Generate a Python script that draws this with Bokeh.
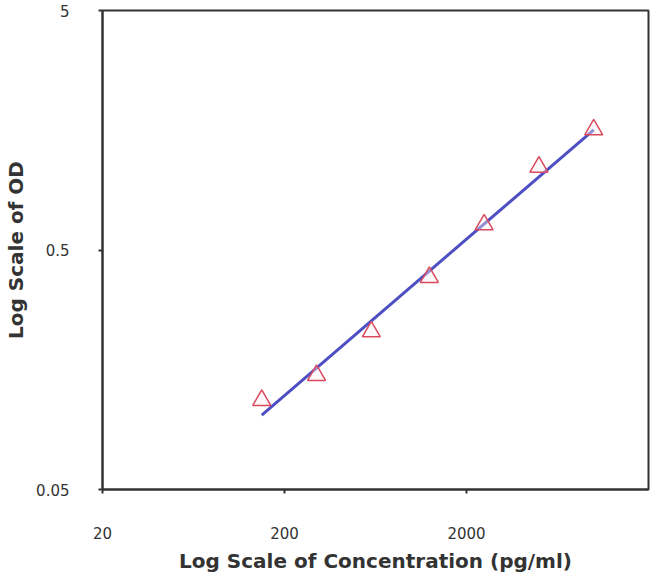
import numpy as np
from bokeh.plotting import figure
from bokeh.models import FixedTicker, CustomJSTickFormatter, Range1d
from bokeh.embed import file_html
from bokeh.resources import INLINE

# Data
concentration = [150, 300, 600, 1250, 2500, 5000, 10000]   # pg/ml
od = [0.118, 0.150, 0.228, 0.385, 0.638, 1.11, 1.59]
x_ticks = [20, 200, 2000]
y_ticks = [0.05, 0.5, 5]
x_label = "Log Scale of Concentration (pg/ml)"
y_label = "Log Scale of OD"

# log-log linear fit
b, a = np.polyfit(np.log10(concentration), np.log10(od), 1)
fit_x = [min(concentration), max(concentration)]
fit_y = [10 ** (a + b * np.log10(v)) for v in fit_x]

p = figure(width=650, height=575, x_axis_type="log", y_axis_type="log",
           x_range=Range1d(20, 20000), y_range=Range1d(0.05, 5),
           output_backend="svg", toolbar_location=None,
           min_border_left=102, min_border_right=2, min_border_top=10,
           min_border_bottom=82)

p.background_fill_color = "white"
p.border_fill_color = "white"
p.grid.visible = False
p.outline_line_color = "#333333"
p.outline_line_width = 2

FONT = "DejaVu Sans"
fmt = CustomJSTickFormatter(code="return String(tick)")
for ax, ticks in ((p.xaxis[0], x_ticks), (p.yaxis[0], y_ticks)):
    ax.ticker = FixedTicker(ticks=ticks, minor_ticks=[])
    ax.formatter = fmt
    ax.axis_line_color = "#333333"
    ax.axis_line_width = 2
    ax.major_tick_line_color = "#333333"
    ax.major_tick_line_width = 2
    ax.major_tick_out = 4
    ax.major_tick_in = 0
    ax.minor_tick_line_color = None
    ax.major_label_text_font = FONT
    ax.major_label_text_font_size = "15px"
    ax.major_label_text_color = "#333333"
    ax.axis_label_text_font = FONT
    ax.axis_label_text_font_style = "bold"
    ax.axis_label_text_font_size = "20px"
    ax.axis_label_text_color = "#333333"

p.xaxis.axis_label = x_label
p.yaxis.axis_label = y_label
p.xaxis.major_label_standoff = 33
p.xaxis.axis_label_standoff = 7
p.yaxis.major_label_standoff = 29
p.yaxis.axis_label_standoff = 5

p.line(fit_x, fit_y, line_color="#4f4fc4", line_width=3)
p.scatter(concentration, od, marker="triangle", size=18,
          line_color="#d94a5e", line_width=1.5, fill_color="#fbeef2", fill_alpha=0.4)

open("out.html", "w").write(file_html(p, INLINE))
